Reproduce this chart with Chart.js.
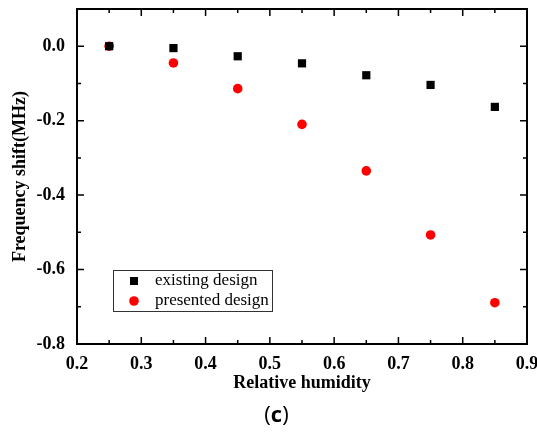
<!DOCTYPE html>
<html>
<head>
<meta charset="utf-8">
<script src="https://cdn.jsdelivr.net/npm/chart.js@4"></script>
<style>
  html, body { margin: 0; padding: 0; background: #fff; }
  #wrap { position: relative; width: 537px; height: 435px; }
  #cap { position: absolute; left: 8px; width: 537px; top: 400px; text-align: center;
         font-family: "Open Sans", "Liberation Sans", sans-serif; font-size: 22px; line-height: 26px; color: #000; }
</style>
</head>
<body>
<div id="wrap">
  <canvas id="c" width="537" height="435"></canvas>
  <div id="cap">(<b>c</b>)</div>
</div>
<script>
// relative humidity
const humidity = [0.25, 0.35, 0.45, 0.55, 0.65, 0.75, 0.85];
// frequency shift (MHz)
const existingDesign = [0.0, -0.005, -0.027, -0.046, -0.078, -0.104, -0.163];
const presentedDesign = [0.0, -0.045, -0.114, -0.21, -0.335, -0.507, -0.689];

const xTicks = [0.2, 0.3, 0.4, 0.5, 0.6, 0.7, 0.8, 0.9];
const yTicks = [-0.8, -0.6, -0.4, -0.2, 0.0];
const xMinor = [0.25, 0.35, 0.45, 0.55, 0.65, 0.75, 0.85];
const yMinor = [-0.7, -0.5, -0.3, -0.1, 0.1];

const serif = "'Liberation Serif', 'Times New Roman', serif";

// frame + inward ticks on all four sides, and legend box inside plot
const framePlugin = {
    id: "frame",
    afterDatasetsDraw(chart) {
        const ctx = chart.ctx;
        const { left, right, top, bottom } = chart.chartArea;
        const xs = chart.scales.x, ys = chart.scales.y;
        ctx.save();
        ctx.strokeStyle = "#000";
        ctx.lineWidth = 2;
        ctx.strokeRect(left, top, right - left, bottom - top);
        ctx.lineWidth = 1.5;
        ctx.beginPath();
        const tick = (vals, len) => {
            vals.forEach(v => {
                const px = xs.getPixelForValue(v);
                ctx.moveTo(px, bottom); ctx.lineTo(px, bottom - len);
                ctx.moveTo(px, top); ctx.lineTo(px, top + len);
            });
        };
        const tickY = (vals, len) => {
            vals.forEach(v => {
                const py = ys.getPixelForValue(v);
                ctx.moveTo(left, py); ctx.lineTo(left + len, py);
                ctx.moveTo(right, py); ctx.lineTo(right - len, py);
            });
        };
        tick(xTicks, 7); tick(xMinor, 4);
        tickY(yTicks, 7); tickY(yMinor, 4);
        ctx.stroke();

        // legend
        const bx = 113, by = 270, bw = 159, bh = 41;
        ctx.lineWidth = 1;
        ctx.strokeStyle = "#333";
        ctx.strokeRect(bx + 0.5, by + 0.5, bw, bh);
        ctx.font = "17px " + serif;
        ctx.textBaseline = "middle";
        ctx.fillStyle = "#000";
        ctx.fillRect(130, 277, 8, 8);
        ctx.fillText("existing design", 155, 281);
        ctx.fillStyle = "#ff0000";
        ctx.beginPath();
        ctx.arc(134, 301, 4.8, 0, Math.PI * 2);
        ctx.fill();
        ctx.fillStyle = "#000";
        ctx.fillText("presented design", 155, 301);
        ctx.restore();
    }
};

new Chart(document.getElementById("c"), {
    type: "scatter",
    data: {
        datasets: [
            {
                label: "existing design",
                data: humidity.map((h, i) => ({ x: h, y: existingDesign[i] })),
                pointStyle: "rect",
                pointRadius: 5.8,
                backgroundColor: "#000",
                borderColor: "#000",
                borderWidth: 0
            },
            {
                label: "presented design",
                data: humidity.map((h, i) => ({ x: h, y: presentedDesign[i] })),
                pointStyle: "circle",
                pointRadius: 4.8,
                backgroundColor: "#ff0000",
                borderColor: "#ff0000",
                borderWidth: 0
            }
        ]
    },
    options: {
        responsive: false,
        animation: false,
        layout: { padding: { left: 0, right: 10, top: 9, bottom: 31 } },
        plugins: { legend: { display: false }, tooltip: { enabled: false } },
        scales: {
            x: {
                type: "linear",
                min: 0.2, max: 0.9,
                afterBuildTicks: s => { s.ticks = xTicks.map(v => ({ value: v })); },
                afterFit: s => { s.height = 60; s.paddingLeft = 0; s.paddingRight = 0; },
                grid: { display: false, drawTicks: false },
                border: { display: false },
                ticks: {
                    padding: 10,
                    color: "#000",
                    font: { family: serif, size: 18, weight: "bold" },
                    callback: v => v.toFixed(1)
                },
                title: {
                    display: true,
                    text: "Relative humidity",
                    color: "#000",
                    padding: { top: 0, bottom: 10 },
                    font: { family: serif, size: 18, weight: "bold" }
                }
            },
            y: {
                min: -0.8, max: 0.1,
                afterBuildTicks: s => { s.ticks = yTicks.map(v => ({ value: v })); },
                afterFit: s => { s.width = 77; s.paddingTop = 0; s.paddingBottom = 0; },
                grid: { display: false, drawTicks: false },
                border: { display: false },
                ticks: {
                    padding: 12,
                    color: "#000",
                    font: { family: serif, size: 18, weight: "bold" },
                    callback: v => v.toFixed(1)
                },
                title: {
                    display: true,
                    text: "Frequency shift(MHz)",
                    color: "#000",
                    padding: { top: 10, bottom: 0 },
                    font: { family: serif, size: 18, weight: "bold" }
                }
            }
        }
    },
    plugins: [framePlugin]
});
</script>
</body>
</html>
